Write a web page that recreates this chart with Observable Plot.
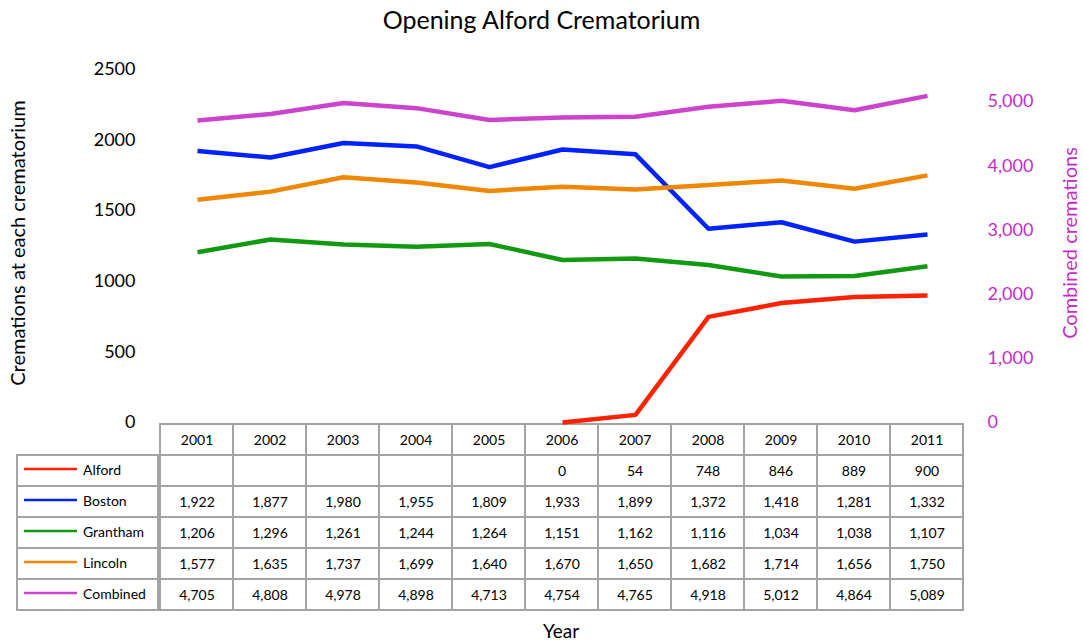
<!DOCTYPE html>
<html>
<head>
<meta charset="utf-8">
<script src="https://cdn.jsdelivr.net/npm/d3@7"></script>
<script src="https://cdn.jsdelivr.net/npm/@observablehq/plot@0.6"></script>
<style>
  body { margin: 0; background: #fff; font-family: Lato, "DejaVu Sans", sans-serif; }
  #wrap { position: relative; width: 1083px; height: 643px; overflow: hidden; }
  #wrap svg { position: absolute; left: 0; top: 0; overflow: visible; background: transparent; }
  #title { position: absolute; left: 0; top: 4px; width: 1083px; text-align: center; font-size: 25px; line-height: 30px; color: #000; }
</style>
</head>
<body>
<div id="wrap"><div id="title">Opening Alford Crematorium</div></div>
<script>
const years = [2001, 2002, 2003, 2004, 2005, 2006, 2007, 2008, 2009, 2010, 2011];
const seriesNames = ["Alford", "Boston", "Grantham", "Lincoln", "Combined"];
const alford   = [null, null, null, null, null, 0, 54, 748, 846, 889, 900];
const boston   = [1922, 1877, 1980, 1955, 1809, 1933, 1899, 1372, 1418, 1281, 1332];
const grantham = [1206, 1296, 1261, 1244, 1264, 1151, 1162, 1116, 1034, 1038, 1107];
const lincoln  = [1577, 1635, 1737, 1699, 1640, 1670, 1650, 1682, 1714, 1656, 1750];
const combined = [4705, 4808, 4978, 4898, 4713, 4754, 4765, 4918, 5012, 4864, 5089];
const seriesColors = ["#ff2200", "#0022ff", "#119911", "#ee8800", "#cc44cc"];
const leftTicks = [0, 500, 1000, 1500, 2000, 2500];
const rightTicks = [0, 1000, 2000, 3000, 4000, 5000];
const leftMax = 2500;
const rightMax = 5500;
const rightColor = "#c42dc8";

const seriesValues = [alford, boston, grantham, lincoln, combined];
const ratio = leftMax / rightMax;
const fmt = d3.format(",");
const font = "Lato, 'DejaVu Sans', sans-serif";

// line data
const lineData = [];
seriesNames.forEach((name, i) => {
  seriesValues[i].forEach((v, j) => {
    if (v == null) return;
    lineData.push({series: name, year: years[j], value: name === "Combined" ? v * ratio : v});
  });
});

// table data
const rowNames = ["Year", ...seriesNames];
const tableCells = [];
years.forEach(y => tableCells.push({year: y, row: "Year", text: String(y)}));
seriesNames.forEach((name, i) => {
  seriesValues[i].forEach((v, j) => {
    tableCells.push({year: years[j], row: name, text: v == null ? "" : fmt(v)});
  });
});

const W = 1083, H = 643;
const ML = 158, MR = W - 965;
const common = {width: W, height: H, style: {fontFamily: font, background: "transparent", overflow: "visible"}};

// table plot
const tablePlot = Plot.plot({
  ...common,
  marginLeft: ML, marginRight: MR, marginTop: 421, marginBottom: 31,
  x: {type: "band", domain: years, padding: 0, axis: null},
  y: {type: "band", domain: rowNames, padding: 0, axis: null},
  marks: [
    Plot.cell(tableCells, {x: "year", y: "row", fill: "white", stroke: "#a3a3a3", strokeWidth: 2, inset: 0}),
    Plot.text(tableCells, {x: "year", y: "row", text: "text", fontSize: 14, fill: "#000", dy: 1}),
    Plot.text(["Year"], {frameAnchor: "bottom", textAnchor: "middle", dx: -1, dy: 25, fontSize: 19, fill: "#000"})
  ]
});

// legend column plot
const legendPlot = Plot.plot({
  ...common,
  marginLeft: 17, marginRight: W - ML, marginTop: 421, marginBottom: 31,
  x: {type: "band", domain: ["legend"], padding: 0, axis: null},
  y: {type: "band", domain: rowNames, padding: 0, axis: null},
  color: {domain: seriesNames, range: seriesColors},
  marks: [
    Plot.cell(seriesNames, {x: () => "legend", y: d => d, fill: "white", stroke: "#a3a3a3", strokeWidth: 2, inset: 0}),
    Plot.tickY(seriesNames, {x: () => "legend", y: d => d, stroke: d => d, strokeWidth: 2.5, insetLeft: 7, insetRight: 81, dy: -2}),
    Plot.text(seriesNames, {x: () => "legend", y: d => d, text: d => d, textAnchor: "start", dx: -5, fontSize: 14, fill: "#000", dy: 0})
  ]
});

// line chart plot
const linePlot = Plot.plot({
  ...common,
  marginLeft: ML, marginRight: MR, marginTop: 69, marginBottom: H - 422,
  x: {type: "point", domain: years, padding: 0.5, align: 0.5, axis: null},
  y: {domain: [0, leftMax]},
  color: {domain: seriesNames, range: seriesColors},
  marks: [
    Plot.axisY(leftTicks, {anchor: "left", tickSize: 0, tickPadding: 23, fontSize: 18, fill: "#000", label: null, tickFormat: d => String(d)}),
    Plot.axisY(rightTicks.map(d => d * ratio), {anchor: "right", tickSize: 0, tickPadding: 22, fontSize: 18, fill: rightColor, color: rightColor, label: null, tickFormat: d => fmt(Math.round(d / ratio))}),
    Plot.text(["Cremations at each crematorium"], {frameAnchor: "left", textAnchor: "middle", rotate: -90, dx: -140, dy: -3, fontSize: 20, fill: "#000"}),
    Plot.text(["Combined cremations"], {frameAnchor: "right", textAnchor: "middle", rotate: -90, dx: 105, dy: -3, fontSize: 20, fill: rightColor}),
    Plot.line(lineData, {x: "year", y: "value", z: "series", stroke: "series", strokeWidth: 4.5, strokeLinejoin: "round", strokeLinecap: "butt"})
  ]
});

const wrap = document.getElementById("wrap");
wrap.appendChild(tablePlot);
wrap.appendChild(legendPlot);
wrap.appendChild(linePlot);
</script>
</body>
</html>
